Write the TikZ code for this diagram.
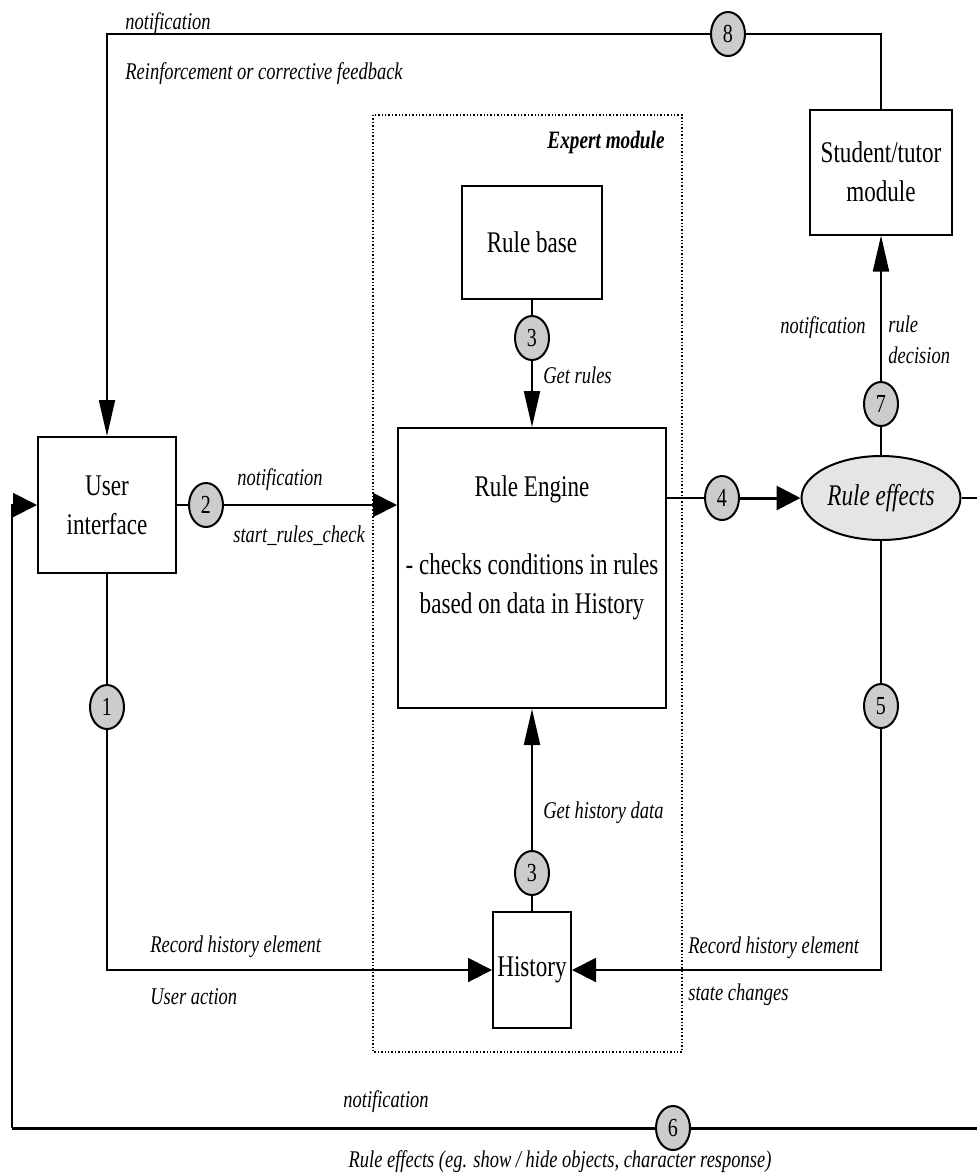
\documentclass[tikz,border=0pt]{standalone}
\usepackage{fontspec}
\setmainfont{Liberation Serif}[FakeStretch=0.77]
\usepackage{tikz}
\usetikzlibrary{arrows.meta,shapes.geometric}

\tikzset{
  box/.style={draw, line width=1pt, inner sep=0pt, align=center, font=\fontsize{15}{19.5}\selectfont},
  numdot/.style={draw, ellipse, fill=gray!40, line width=1pt, minimum width=17pt, minimum height=22pt, inner sep=0pt, font=\fontsize{13}{13}\selectfont},
  lbl/.style={inner sep=0pt, font=\fontsize{12}{14}\selectfont\itshape},
  conn/.style={line width=1pt},
  harr/.style={conn, -{Triangle[length=12pt,width=12pt]}},
  varr/.style={conn, -{Triangle[length=18pt,width=8pt]}},
}

\begin{document}
\begin{tikzpicture}[x=0.5pt, y=-0.5pt]
\useasboundingbox (0,0) rectangle (977,1175);

% Expert module frame
\draw[densely dotted, line width=0.7pt] (373,115) rectangle (682,1052);
\node[lbl, anchor=base east, font=\fontsize{12.5}{14}\selectfont\bfseries\itshape] (expert) at (665,148) {Expert module};

% Boxes
\node[box, minimum width=69pt, minimum height=68pt] (ui) at (107,505) {User\\interface};
\node[box, minimum width=134pt, minimum height=140pt] (engine) at (532,568) {};
\node[align=center, inner sep=0pt, font=\fontsize{15}{19.5}\selectfont, yshift=10pt] (engtxt) at (engine.center)
  {Rule Engine\\[19.5pt]- checks conditions in rules\\based on data in History};
\node[box, minimum width=70pt, minimum height=56.5pt] (rbase) at (532,242) {Rule base};
\node[box, minimum width=39pt, minimum height=58pt] (hist) at (532,970) {History};
\node[box, minimum width=71pt, minimum height=62.5pt] (stud) at (881,172) {Student/tutor\\module};

% Rule effects ellipse
\node[draw, ellipse, fill=gray!20, line width=1pt, minimum width=79.5pt, minimum height=42pt, inner sep=0pt,
      font=\fontsize{15}{15}\selectfont\itshape] (eff) at (881,498) {Rule effects};

% Numbered steps
\node[numdot] (c1) at (107,707) {1};
\node[numdot] (c2) at (206,505) {2};
\node[numdot] (c3a) at (532,338) {3};
\node[numdot] (c3b) at (532,873) {3};
\node[numdot] (c4) at (722,498) {4};
\node[numdot] (c5) at (881,706) {5};
\node[numdot] (c6) at (673,1128) {6};
\node[numdot] (c7) at (881,404) {7};
\node[numdot] (c8) at (728,34) {8};

% Free ends at the right edge and the left return line
\coordinate (effout) at (977,498);
\coordinate (botr) at (977,1128);
\coordinate (botl) at (12,1128);

% Connectors
\draw[conn] (c8) -| (stud.north);
\draw[varr] (c8) -| (ui.north);
\draw[conn] (eff.north) -- (c7);
\draw[varr] (c7) -- (stud.south);
\draw[conn] (eff.south) -- (c5);
\draw[harr] (c5) |- (hist.east);
\draw[conn] (ui.south) -- (c1);
\draw[harr] (c1) |- (hist.west);
\draw[conn] (ui.east) -- (c2);
\draw[harr] (c2) -- (c2 -| engine.west);
\draw[conn] (rbase.south) -- (c3a);
\draw[varr] (c3a) -- (engine.north);
\draw[conn] (hist.north) -- (c3b);
\draw[varr] (c3b) -- (engine.south);
\draw[conn] (c4 -| engine.east) -- (c4);
\draw[harr, line width=1.5pt] (c4) -- (eff.west);
\draw[conn] (eff.east) -- (effout);
\draw[conn, line width=1.5pt] (botr) -- (c6) -- (botl);
\draw[harr] (botl) |- (ui.west);

% Labels
\node[lbl, anchor=base west] (l8a) at (125,29) {notification};
\node[lbl, anchor=base west] (l8b) at (125,79) {Reinforcement or corrective feedback};
\node[lbl, anchor=base east] (l7a) at (866,333) {notification};
\node[lbl, anchor=base west] (l7b) at (888,332) {rule};
\node[lbl, anchor=base west] (l7c) at (888,363) {decision};
\node[lbl, anchor=base west] (l3a) at (543,383) {Get rules};
\node[lbl, anchor=base west] (l2a) at (237,485) {notification};
\node[lbl, anchor=base west] (l2b) at (233,542) {start\_rules\_check};
\node[lbl, anchor=base west] (l3b) at (543,818) {Get history data};
\node[lbl, anchor=base west] (l1a) at (150,952) {Record history element};
\node[lbl, anchor=base west] (l1b) at (150,1004) {User action};
\node[lbl, anchor=base west] (l5a) at (688,953) {Record history element};
\node[lbl, anchor=base west] (l5b) at (688,1000) {state changes};
\node[lbl, anchor=base west] (l6a) at (343,1107) {notification};
\node[lbl, anchor=base] (l6b) at (560,1167) {Rule effects (eg. show / hide objects, character response)};

\end{tikzpicture}
\end{document}
